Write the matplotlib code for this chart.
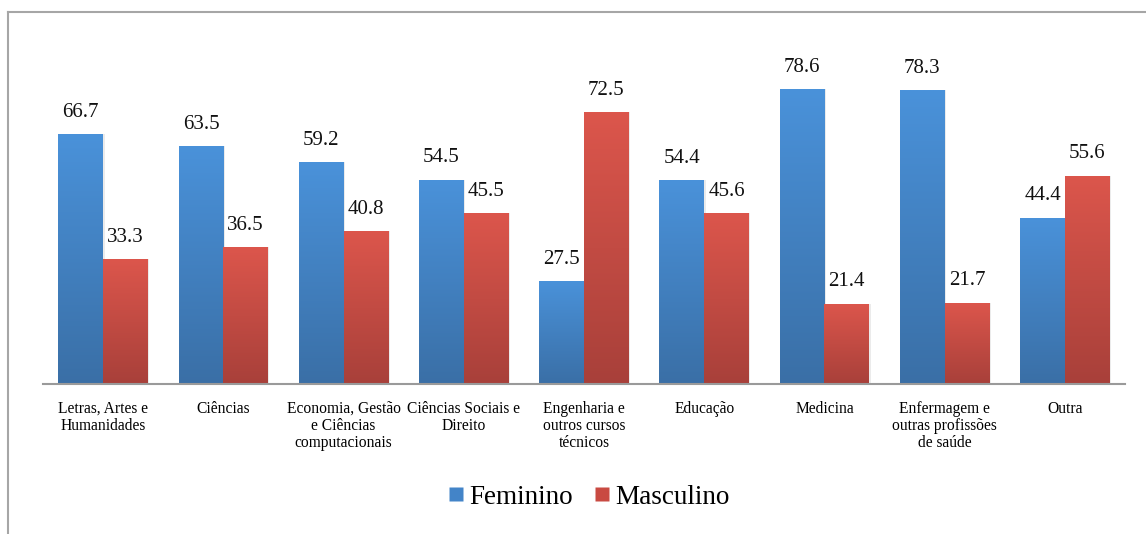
import numpy as np
import matplotlib.pyplot as plt
from matplotlib.colors import LinearSegmentedColormap
from matplotlib.lines import Line2D

categories = [
    "Letras, Artes e\nHumanidades",
    "Ciências",
    "Economia, Gestão\ne Ciências\ncomputacionais",
    "Ciências Sociais e\nDireito",
    "Engenharia e\noutros cursos\ntécnicos",
    "Educação",
    "Medicina",
    "Enfermagem e\noutras profissões\nde saúde",
    "Outra",
]
feminino = [66.7, 63.5, 59.2, 54.5, 27.5, 54.4, 78.6, 78.3, 44.4]
masculino = [33.3, 36.5, 40.8, 45.5, 72.5, 45.6, 21.4, 21.7, 55.6]

plt.rcParams["font.family"] = ["Liberation Serif", "DejaVu Serif"]

W, H = 1146, 534
fig = plt.figure(figsize=(W / 100, H / 100), dpi=100)

# plot area in pixel terms: x 43..1125, baseline at y=384
left, right = 43 / W, 1125 / W
bottom = 1 - 384 / H
top = 1 - 46.5 / H
ax = fig.add_axes([left, bottom, right - left, top - bottom])

blue_cmap = LinearSegmentedColormap.from_list("blue", ["#3a6fa6", "#4a92da"])
red_cmap = LinearSegmentedColormap.from_list("red", ["#a8403a", "#dc564c"])

x = np.arange(len(categories))
w = 0.372


def gradient_bars(xs, vals, cmap):
    bars = ax.bar(xs, vals, width=w, color="none", edgecolor="none", zorder=2)
    grad = np.linspace(0, 1, 256).reshape(-1, 1)
    for b in bars:
        x0, y0 = b.get_x(), b.get_y()
        bw, bh = b.get_width(), b.get_height()
        # soft drop shadow
        ax.add_patch(plt.Rectangle((x0 + 0.012, y0), bw, bh, color="#000000",
                                   alpha=0.08, zorder=1, lw=0))
        im = ax.imshow(grad, extent=(x0, x0 + bw, y0, y0 + bh), origin="lower",
                       cmap=cmap, aspect="auto", zorder=2)
        im.set_clip_path(b)
    return bars


gradient_bars(x - w / 2, feminino, blue_cmap)
gradient_bars(x + w / 2, masculino, red_cmap)

for i in range(len(categories)):
    ax.text(x[i] - w / 2, feminino[i] + 4.6, f"{feminino[i]:.1f}",
            ha="center", va="baseline", fontsize=15, color="#111111")
    ax.text(x[i] + w / 2, masculino[i] + 4.6, f"{masculino[i]:.1f}",
            ha="center", va="baseline", fontsize=15, color="#111111")

ax.set_xlim(-0.5, len(categories) - 0.5)
ax.set_ylim(0, 90)
ax.set_xticks(x)
ax.set_xticklabels(categories, fontsize=11.2, linespacing=1.08, va="top")
ax.tick_params(axis="x", length=0, pad=12)
ax.set_yticks([])
for s in ["top", "right", "left"]:
    ax.spines[s].set_visible(False)
ax.spines["bottom"].set_color("#9a9a9a")
ax.spines["bottom"].set_linewidth(1.5)
ax.spines["bottom"].set_zorder(3)

handles = [
    Line2D([], [], marker="s", linestyle="none", markersize=10,
           markerfacecolor="#4384c8", markeredgecolor="none"),
    Line2D([], [], marker="s", linestyle="none", markersize=10,
           markerfacecolor="#c94a42", markeredgecolor="none"),
]
fig.legend(handles, ["Feminino", "Masculino"], loc="center",
           bbox_to_anchor=(588 / W, 1 - 497 / H), ncol=2, frameon=False,
           fontsize=19.5, handlelength=0.7, handletextpad=0.15,
           columnspacing=0.7)

# outer frame (top and left edges visible)
fig.add_artist(Line2D([8 / W, 1], [1 - 12 / H, 1 - 12 / H],
                      transform=fig.transFigure, color="#a6a6a6", lw=1.5))
fig.add_artist(Line2D([8 / W, 8 / W], [0, 1 - 12 / H],
                      transform=fig.transFigure, color="#a6a6a6", lw=1.5))

fig.savefig("out.png", dpi=100)
